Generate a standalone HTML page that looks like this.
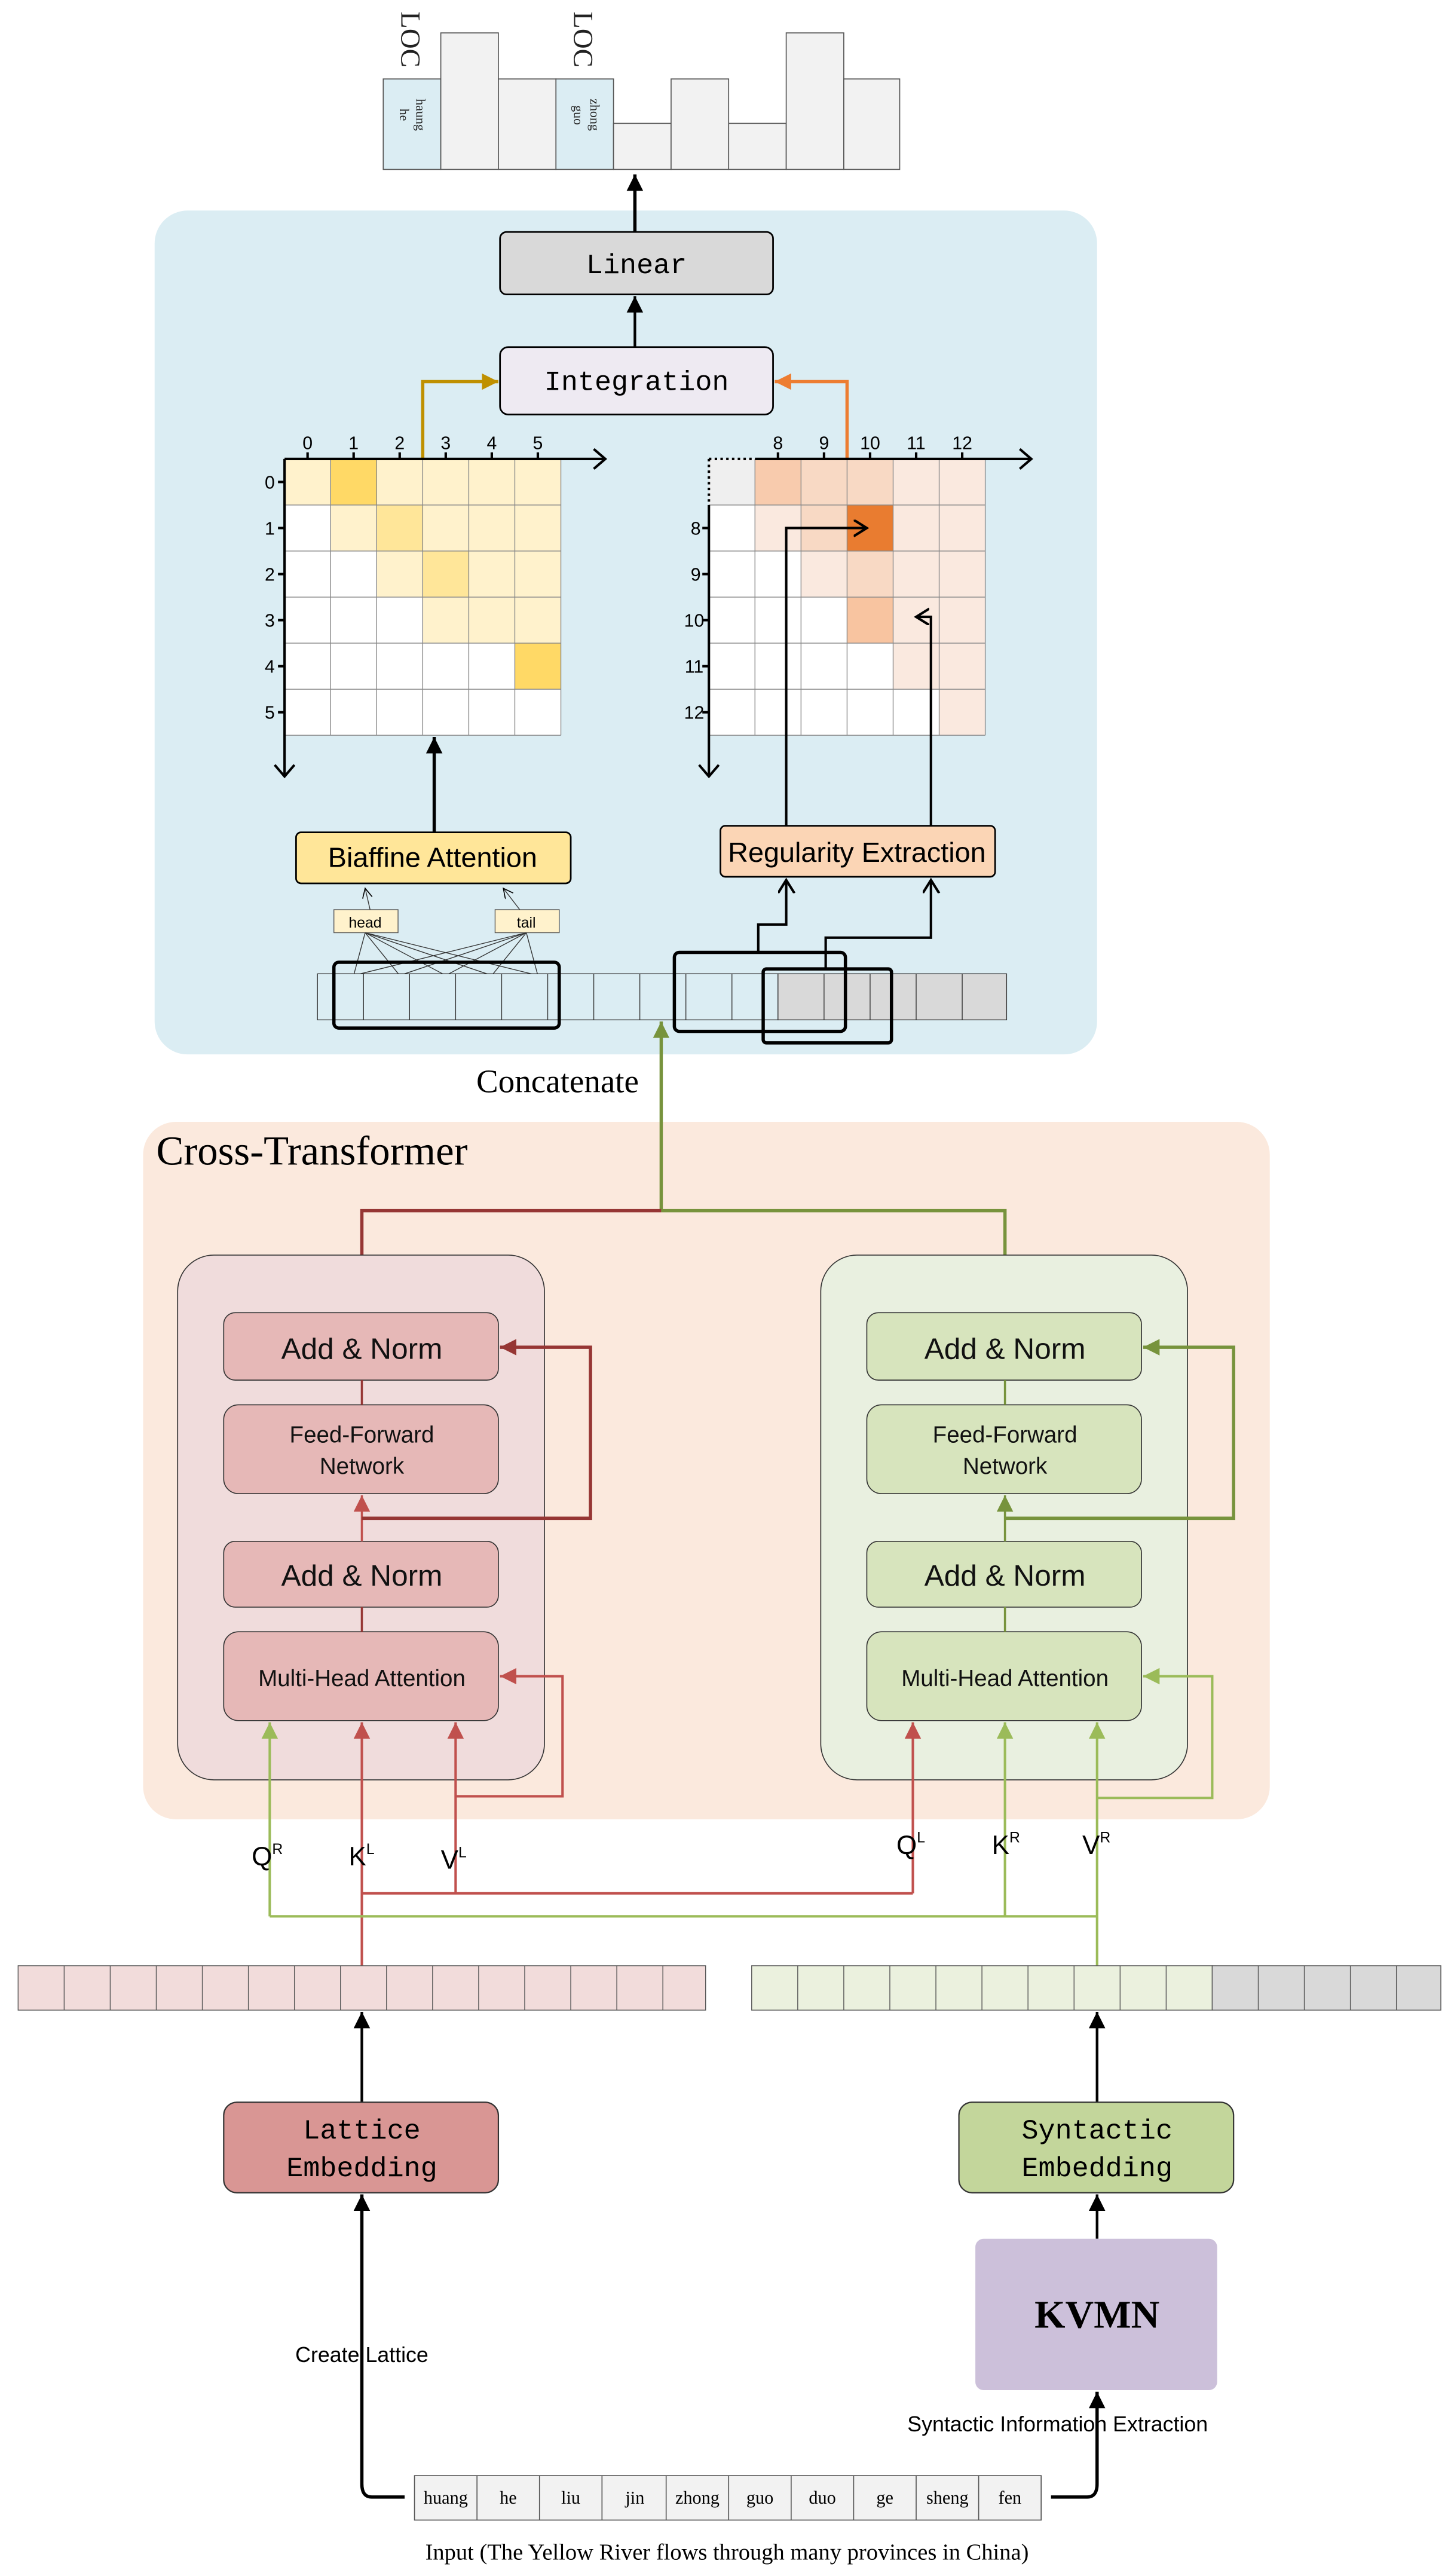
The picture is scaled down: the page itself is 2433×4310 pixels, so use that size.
<!DOCTYPE html>
<html><head><meta charset="utf-8"><style>html,body{margin:0;padding:0;background:#fff}svg{display:block}</style></head>
<body>
<svg xmlns="http://www.w3.org/2000/svg" width="2433" height="4310" viewBox="0 0 884 1566">
<defs>
<marker id="ak" markerUnits="userSpaceOnUse" markerWidth="12" markerHeight="12" refX="10" refY="5" orient="auto"><path d="M0,0L10,5L0,10z" fill="#000"/></marker>
<marker id="ar" markerUnits="userSpaceOnUse" markerWidth="12" markerHeight="12" refX="10" refY="5" orient="auto"><path d="M0,0L10,5L0,10z" fill="#c0504d"/></marker>
<marker id="adr" markerUnits="userSpaceOnUse" markerWidth="12" markerHeight="12" refX="10" refY="5" orient="auto"><path d="M0,0L10,5L0,10z" fill="#963634"/></marker>
<marker id="ag" markerUnits="userSpaceOnUse" markerWidth="12" markerHeight="12" refX="10" refY="5" orient="auto"><path d="M0,0L10,5L0,10z" fill="#9bbb59"/></marker>
<marker id="adg" markerUnits="userSpaceOnUse" markerWidth="12" markerHeight="12" refX="10" refY="5" orient="auto"><path d="M0,0L10,5L0,10z" fill="#77933c"/></marker>
<marker id="agold" markerUnits="userSpaceOnUse" markerWidth="12" markerHeight="12" refX="10" refY="5" orient="auto"><path d="M0,0L10,5L0,10z" fill="#bf9000"/></marker>
<marker id="aor" markerUnits="userSpaceOnUse" markerWidth="12" markerHeight="12" refX="10" refY="5" orient="auto"><path d="M0,0L10,5L0,10z" fill="#ed7d31"/></marker>
<marker id="aopen" markerUnits="userSpaceOnUse" markerWidth="12" markerHeight="12" refX="8" refY="5" orient="auto"><path d="M0,0L8,5L0,10" fill="none" stroke="#000" stroke-width="1.5"/></marker>
<marker id="athin" markerUnits="userSpaceOnUse" markerWidth="8" markerHeight="8" refX="6" refY="3" orient="auto"><path d="M0,0L6,3L0,6" fill="none" stroke="#000" stroke-width="0.6"/></marker>
</defs>

<!-- top bar chart -->
<g stroke="#555" stroke-width="0.6">
<rect x="233" y="48" width="35" height="55" fill="#dbedf3"/>
<rect x="268" y="20" width="35" height="83" fill="#f2f2f2"/>
<rect x="303" y="48" width="35" height="55" fill="#f2f2f2"/>
<rect x="338" y="48" width="35" height="55" fill="#dbedf3"/>
<rect x="373" y="75" width="35" height="28" fill="#f2f2f2"/>
<rect x="408" y="48" width="35" height="55" fill="#f2f2f2"/>
<rect x="443" y="75" width="35" height="28" fill="#f2f2f2"/>
<rect x="478" y="20" width="35" height="83" fill="#f2f2f2"/>
<rect x="513" y="48" width="34" height="55" fill="#f2f2f2"/>
</g>
<g font-family="Liberation Serif, serif" fill="#222">
<text transform="translate(244,7) rotate(90)" font-size="17">LOC</text>
<text transform="translate(349,7) rotate(90)" font-size="17">LOC</text>
<text transform="translate(253,60) rotate(90)" font-size="8">haung</text>
<text transform="translate(243,66) rotate(90)" font-size="8">he</text>
<text transform="translate(359,60) rotate(90)" font-size="8">zhong</text>
<text transform="translate(349,64) rotate(90)" font-size="8">guo</text>
</g>

<!-- blue panel -->
<rect x="94" y="128" width="573" height="513" rx="20" fill="#dbedf3"/>

<line x1="386" y1="141" x2="386" y2="106" stroke="#000" stroke-width="2" marker-end="url(#ak)"/>
<rect x="304" y="141" width="166" height="38" rx="4" fill="#d9d9d9" stroke="#000" stroke-width="1"/>
<text x="387" y="166" text-anchor="middle" font-family="Liberation Mono, monospace" font-size="17">Linear</text>
<line x1="386" y1="211" x2="386" y2="180" stroke="#000" stroke-width="1.6" marker-end="url(#ak)"/>
<rect x="304" y="211" width="166" height="41" rx="5" fill="#eeeaf2" stroke="#000" stroke-width="1"/>
<text x="387" y="237" text-anchor="middle" font-family="Liberation Mono, monospace" font-size="17">Integration</text>
<polyline points="257,280 257,232 303,232" fill="none" stroke="#bf9000" stroke-width="2" marker-end="url(#agold)"/>
<polyline points="515,280 515,232 471,232" fill="none" stroke="#ed7d31" stroke-width="2" marker-end="url(#aor)"/>

<!-- left matrix -->
<rect x="173" y="279" width="168" height="168" fill="#fff"/>
<rect x="173" y="279" width="168" height="28" fill="#fff2cc"/>
<rect x="201" y="279" width="28" height="28" fill="#ffd966"/>
<rect x="201" y="307" width="140" height="28" fill="#fff2cc"/>
<rect x="229" y="307" width="28" height="28" fill="#ffe699"/>
<rect x="229" y="335" width="112" height="28" fill="#fff2cc"/>
<rect x="257" y="335" width="28" height="28" fill="#ffe699"/>
<rect x="257" y="363" width="84" height="28" fill="#fff2cc"/>
<rect x="313" y="391" width="28" height="28" fill="#ffd966"/>
<g stroke="#888" stroke-width="0.5">
<line x1="201" y1="279" x2="201" y2="447"/><line x1="229" y1="279" x2="229" y2="447"/><line x1="257" y1="279" x2="257" y2="447"/><line x1="285" y1="279" x2="285" y2="447"/><line x1="313" y1="279" x2="313" y2="447"/><line x1="341" y1="279" x2="341" y2="447"/>
<line x1="173" y1="307" x2="341" y2="307"/><line x1="173" y1="335" x2="341" y2="335"/><line x1="173" y1="363" x2="341" y2="363"/><line x1="173" y1="391" x2="341" y2="391"/><line x1="173" y1="419" x2="341" y2="419"/><line x1="173" y1="447" x2="341" y2="447"/>
</g>
<g stroke="#000" stroke-width="1.5" fill="none">
<line x1="173" y1="279" x2="368" y2="279"/><polyline points="361,273 368,279 361,285"/>
<line x1="173" y1="279" x2="173" y2="472"/><polyline points="167,465 173,472 179,465"/>
<line x1="187" y1="275" x2="187" y2="279"/><line x1="215" y1="275" x2="215" y2="279"/><line x1="243" y1="275" x2="243" y2="279"/><line x1="271" y1="275" x2="271" y2="279"/><line x1="299" y1="275" x2="299" y2="279"/><line x1="327" y1="275" x2="327" y2="279"/>
<line x1="169" y1="293" x2="173" y2="293"/><line x1="169" y1="321" x2="173" y2="321"/><line x1="169" y1="349" x2="173" y2="349"/><line x1="169" y1="377" x2="173" y2="377"/><line x1="169" y1="405" x2="173" y2="405"/><line x1="169" y1="433" x2="173" y2="433"/>
</g>
<g font-family="Liberation Sans, sans-serif" font-size="11" text-anchor="middle">
<text x="187" y="273">0</text><text x="215" y="273">1</text><text x="243" y="273">2</text><text x="271" y="273">3</text><text x="299" y="273">4</text><text x="327" y="273">5</text>
<text x="164" y="297">0</text><text x="164" y="325">1</text><text x="164" y="353">2</text><text x="164" y="381">3</text><text x="164" y="409">4</text><text x="164" y="437">5</text>
</g>

<!-- right matrix -->
<rect x="431" y="279" width="168" height="168" fill="#fff"/>
<rect x="431" y="279" width="28" height="28" fill="#efefef"/>
<rect x="459" y="279" width="28" height="28" fill="#f8cbad"/>
<rect x="487" y="279" width="56" height="28" fill="#f8d9c4"/>
<rect x="543" y="279" width="56" height="140" fill="#fae9df"/>
<rect x="571" y="419" width="28" height="28" fill="#fae9df"/>
<rect x="459" y="307" width="28" height="28" fill="#fae9df"/>
<rect x="487" y="307" width="28" height="28" fill="#f8d9c4"/>
<rect x="515" y="307" width="28" height="28" fill="#e97c30"/>
<rect x="487" y="335" width="28" height="28" fill="#fae9df"/>
<rect x="515" y="335" width="28" height="28" fill="#f8d9c4"/>
<rect x="515" y="363" width="28" height="28" fill="#f8c4a0"/>
<g stroke="#888" stroke-width="0.5">
<line x1="459" y1="279" x2="459" y2="447"/><line x1="487" y1="279" x2="487" y2="447"/><line x1="515" y1="279" x2="515" y2="447"/><line x1="543" y1="279" x2="543" y2="447"/><line x1="571" y1="279" x2="571" y2="447"/><line x1="599" y1="279" x2="599" y2="447"/>
<line x1="431" y1="307" x2="599" y2="307"/><line x1="431" y1="335" x2="599" y2="335"/><line x1="431" y1="363" x2="599" y2="363"/><line x1="431" y1="391" x2="599" y2="391"/><line x1="431" y1="419" x2="599" y2="419"/><line x1="431" y1="447" x2="599" y2="447"/>
</g>
<g stroke="#000" stroke-width="1.5" fill="none">
<line x1="459" y1="279" x2="627" y2="279"/><polyline points="620,273 627,279 620,285"/>
<line x1="431" y1="279" x2="459" y2="279" stroke-dasharray="1.5,2"/>
<line x1="431" y1="279" x2="431" y2="307" stroke-dasharray="1.5,2"/>
<line x1="431" y1="307" x2="431" y2="472"/><polyline points="425,465 431,472 437,465"/>
<line x1="473" y1="275" x2="473" y2="279"/><line x1="501" y1="275" x2="501" y2="279"/><line x1="529" y1="275" x2="529" y2="279"/><line x1="557" y1="275" x2="557" y2="279"/><line x1="585" y1="275" x2="585" y2="279"/>
<line x1="427" y1="321" x2="431" y2="321"/><line x1="427" y1="349" x2="431" y2="349"/><line x1="427" y1="377" x2="431" y2="377"/><line x1="427" y1="405" x2="431" y2="405"/><line x1="427" y1="433" x2="431" y2="433"/>
</g>
<g font-family="Liberation Sans, sans-serif" font-size="11" text-anchor="middle">
<text x="473" y="273">8</text><text x="501" y="273">9</text><text x="529" y="273">10</text><text x="557" y="273">11</text><text x="585" y="273">12</text>
<text x="423" y="325">8</text><text x="423" y="353">9</text><text x="422" y="381">10</text><text x="422" y="409">11</text><text x="422" y="437">12</text>
</g>

<!-- biaffine -->
<line x1="264" y1="506" x2="264" y2="448" stroke="#000" stroke-width="2" marker-end="url(#ak)"/>
<rect x="180" y="506" width="167" height="31" rx="3" fill="#ffe699" stroke="#000" stroke-width="1"/>
<text x="263" y="527" text-anchor="middle" font-family="Liberation Sans Narrow, Liberation Sans, sans-serif" font-size="17">Biaffine Attention</text>
<rect x="203" y="553" width="39" height="14" fill="#fff2cc" stroke="#555" stroke-width="0.5"/>
<rect x="301" y="553" width="39" height="14" fill="#fff2cc" stroke="#555" stroke-width="0.5"/>
<text x="222" y="564" text-anchor="middle" font-family="Liberation Sans, sans-serif" font-size="9">head</text>
<text x="320" y="564" text-anchor="middle" font-family="Liberation Sans, sans-serif" font-size="9">tail</text>
<g stroke="#333" stroke-width="0.5" fill="none">
<line x1="225" y1="553" x2="222" y2="540" marker-end="url(#athin)"/>
<line x1="316" y1="553" x2="306" y2="540" marker-end="url(#athin)"/>
<line x1="222" y1="567" x2="215" y2="593"/><line x1="222" y1="567" x2="243" y2="593"/><line x1="222" y1="567" x2="271" y2="593"/><line x1="222" y1="567" x2="299" y2="593"/><line x1="222" y1="567" x2="327" y2="593"/>
<line x1="320" y1="567" x2="215" y2="593"/><line x1="320" y1="567" x2="243" y2="593"/><line x1="320" y1="567" x2="271" y2="593"/><line x1="320" y1="567" x2="299" y2="593"/><line x1="320" y1="567" x2="327" y2="593"/>
</g>

<!-- token row -->
<rect x="193" y="592" width="280" height="28" fill="#dbedf3" stroke="#333" stroke-width="0.5"/>
<rect x="473" y="592" width="139" height="28" fill="#d9d9d9" stroke="#333" stroke-width="0.5"/>
<g stroke="#333" stroke-width="0.5">
<line x1="221" y1="592" x2="221" y2="620"/><line x1="249" y1="592" x2="249" y2="620"/><line x1="277" y1="592" x2="277" y2="620"/><line x1="305" y1="592" x2="305" y2="620"/><line x1="333" y1="592" x2="333" y2="620"/><line x1="361" y1="592" x2="361" y2="620"/><line x1="389" y1="592" x2="389" y2="620"/><line x1="417" y1="592" x2="417" y2="620"/><line x1="445" y1="592" x2="445" y2="620"/><line x1="501" y1="592" x2="501" y2="620"/><line x1="529" y1="592" x2="529" y2="620"/><line x1="557" y1="592" x2="557" y2="620"/><line x1="585" y1="592" x2="585" y2="620"/>
</g>
<g fill="none" stroke="#000" stroke-width="2">
<rect x="203" y="585" width="137" height="40" rx="3"/>
<rect x="410" y="579" width="104" height="48" rx="3"/>
<rect x="464" y="589" width="78" height="45" rx="2"/>
</g>

<!-- regularity -->
<rect x="438" y="502" width="167" height="31" rx="3" fill="#fbd5b5" stroke="#000" stroke-width="1"/>
<text x="521" y="524" text-anchor="middle" font-family="Liberation Sans Narrow, Liberation Sans, sans-serif" font-size="17">Regularity Extraction</text>
<g fill="none" stroke="#000" stroke-width="1.5">
<polyline points="461,579 461,562 478,562 478,535" marker-end="url(#aopen)"/>
<polyline points="502,589 502,570 566,570 566,535" marker-end="url(#aopen)"/>
<polyline points="478,502 478,321 527,321" marker-end="url(#aopen)"/>
<polyline points="566,502 566,375 557,375" marker-end="url(#aopen)"/>
</g>

<text x="339" y="664" text-anchor="middle" font-family="Liberation Serif, serif" font-size="20">Concatenate</text>

<!-- cross transformer -->
<rect x="87" y="682" width="685" height="424" rx="20" fill="#fbe9dd"/>
<text x="95" y="708" font-family="Liberation Serif, serif" font-size="25">Cross-Transformer</text>
<line x1="402" y1="736" x2="402" y2="621" stroke="#77933c" stroke-width="2" marker-end="url(#adg)"/>
<polyline points="220,800 220,736 402,736" fill="none" stroke="#963634" stroke-width="2"/>
<polyline points="402,736 611,736 611,800" fill="none" stroke="#77933c" stroke-width="2"/>

<rect x="108" y="763" width="223" height="319" rx="22" fill="#f0dcdc" stroke="#333" stroke-width="0.6"/>
<rect x="499" y="763" width="223" height="319" rx="22" fill="#e9f0e0" stroke="#333" stroke-width="0.6"/>

<g stroke="#333" stroke-width="0.6">
<rect x="136" y="798" width="167" height="41" rx="7" fill="#e6b8b7"/>
<rect x="136" y="854" width="167" height="54" rx="9" fill="#e6b8b7"/>
<rect x="136" y="937" width="167" height="40" rx="7" fill="#e6b8b7"/>
<rect x="136" y="992" width="167" height="54" rx="9" fill="#e6b8b7"/>
<rect x="527" y="798" width="167" height="41" rx="7" fill="#d7e4bd"/>
<rect x="527" y="854" width="167" height="54" rx="9" fill="#d7e4bd"/>
<rect x="527" y="937" width="167" height="40" rx="7" fill="#d7e4bd"/>
<rect x="527" y="992" width="167" height="54" rx="9" fill="#d7e4bd"/>
</g>
<g font-family="Liberation Sans Narrow, Liberation Sans, sans-serif" text-anchor="middle" fill="#111">
<text x="220" y="826" font-size="18">Add &amp; Norm</text>
<text x="220" y="877" font-size="14">Feed-Forward</text><text x="220" y="896" font-size="14">Network</text>
<text x="220" y="964" font-size="18">Add &amp; Norm</text>
<text x="220" y="1025" font-size="14">Multi-Head Attention</text>
<text x="611" y="826" font-size="18">Add &amp; Norm</text>
<text x="611" y="877" font-size="14">Feed-Forward</text><text x="611" y="896" font-size="14">Network</text>
<text x="611" y="964" font-size="18">Add &amp; Norm</text>
<text x="611" y="1025" font-size="14">Multi-Head Attention</text>
</g>
<!-- left internal connectors -->
<g fill="none" stroke-width="1.3">
<line x1="220" y1="839" x2="220" y2="854" stroke="#963634"/>
<line x1="220" y1="937" x2="220" y2="909" stroke="#c0504d" marker-end="url(#ar)"/>
<line x1="220" y1="977" x2="220" y2="992" stroke="#963634"/>
<polyline points="220,923 359,923 359,819 304,819" stroke="#963634" stroke-width="2" marker-end="url(#adr)"/>
<line x1="611" y1="839" x2="611" y2="854" stroke="#77933c"/>
<line x1="611" y1="937" x2="611" y2="909" stroke="#77933c" marker-end="url(#adg)"/>
<line x1="611" y1="977" x2="611" y2="992" stroke="#77933c"/>
<polyline points="611,923 750,923 750,819 695,819" stroke="#77933c" stroke-width="2" marker-end="url(#adg)"/>
</g>
<!-- MHA inputs -->
<g fill="none" stroke-width="1.5">
<line x1="164" y1="1165" x2="164" y2="1047" stroke="#9bbb59" marker-end="url(#ag)"/>
<line x1="220" y1="1195" x2="220" y2="1047" stroke="#c0504d" marker-end="url(#ar)"/>
<line x1="277" y1="1151" x2="277" y2="1047" stroke="#c0504d" marker-end="url(#ar)"/>
<polyline points="277,1092 342,1092 342,1019 304,1019" stroke="#c0504d" marker-end="url(#ar)"/>
<line x1="555" y1="1151" x2="555" y2="1047" stroke="#c0504d" marker-end="url(#ar)"/>
<line x1="611" y1="1165" x2="611" y2="1047" stroke="#9bbb59" marker-end="url(#ag)"/>
<line x1="667" y1="1195" x2="667" y2="1047" stroke="#9bbb59" marker-end="url(#ag)"/>
<polyline points="667,1093 737,1093 737,1019 695,1019" stroke="#9bbb59" marker-end="url(#ag)"/>
<polyline points="164,1165 667,1165" stroke="#9bbb59"/>
<polyline points="220,1151 555,1151" stroke="#c0504d"/>
</g>
<g font-family="Liberation Sans Narrow, Liberation Sans, sans-serif" font-size="16" fill="#000">
<text x="153" y="1134">Q<tspan font-size="9" dy="-7">R</tspan></text>
<text x="212" y="1134">K<tspan font-size="9" dy="-7">L</tspan></text>
<text x="268" y="1136">V<tspan font-size="9" dy="-7">L</tspan></text>
<text x="545" y="1127">Q<tspan font-size="9" dy="-7">L</tspan></text>
<text x="603" y="1127">K<tspan font-size="9" dy="-7">R</tspan></text>
<text x="658" y="1127">V<tspan font-size="9" dy="-7">R</tspan></text>
</g>

<!-- embedding rows -->
<rect x="11" y="1195" width="418" height="27" fill="#f2dcdb" stroke="#555" stroke-width="0.5"/>
<g stroke="#555" stroke-width="0.5">
<line x1="39" y1="1195" x2="39" y2="1222"/><line x1="67" y1="1195" x2="67" y2="1222"/><line x1="95" y1="1195" x2="95" y2="1222"/><line x1="123" y1="1195" x2="123" y2="1222"/><line x1="151" y1="1195" x2="151" y2="1222"/><line x1="179" y1="1195" x2="179" y2="1222"/><line x1="207" y1="1195" x2="207" y2="1222"/><line x1="235" y1="1195" x2="235" y2="1222"/><line x1="263" y1="1195" x2="263" y2="1222"/><line x1="291" y1="1195" x2="291" y2="1222"/><line x1="319" y1="1195" x2="319" y2="1222"/><line x1="347" y1="1195" x2="347" y2="1222"/><line x1="375" y1="1195" x2="375" y2="1222"/><line x1="403" y1="1195" x2="403" y2="1222"/>
</g>
<rect x="457" y="1195" width="280" height="27" fill="#ebf1de" stroke="#555" stroke-width="0.5"/>
<rect x="737" y="1195" width="139" height="27" fill="#d9d9d9" stroke="#555" stroke-width="0.5"/>
<g stroke="#555" stroke-width="0.5">
<line x1="485" y1="1195" x2="485" y2="1222"/><line x1="513" y1="1195" x2="513" y2="1222"/><line x1="541" y1="1195" x2="541" y2="1222"/><line x1="569" y1="1195" x2="569" y2="1222"/><line x1="597" y1="1195" x2="597" y2="1222"/><line x1="625" y1="1195" x2="625" y2="1222"/><line x1="653" y1="1195" x2="653" y2="1222"/><line x1="681" y1="1195" x2="681" y2="1222"/><line x1="709" y1="1195" x2="709" y2="1222"/><line x1="765" y1="1195" x2="765" y2="1222"/><line x1="793" y1="1195" x2="793" y2="1222"/><line x1="821" y1="1195" x2="821" y2="1222"/><line x1="849" y1="1195" x2="849" y2="1222"/>
</g>

<line x1="220" y1="1278" x2="220" y2="1223" stroke="#000" stroke-width="1.6" marker-end="url(#ak)"/>
<line x1="667" y1="1278" x2="667" y2="1223" stroke="#000" stroke-width="1.6" marker-end="url(#ak)"/>
<rect x="136" y="1278" width="167" height="55" rx="8" fill="#d99694" stroke="#333" stroke-width="0.8"/>
<rect x="583" y="1278" width="167" height="55" rx="8" fill="#c3d69b" stroke="#333" stroke-width="0.8"/>
<g font-family="Liberation Mono, monospace" font-size="17" text-anchor="middle">
<text x="220" y="1300">Lattice</text><text x="220" y="1323">Embedding</text>
<text x="667" y="1300">Syntactic</text><text x="667" y="1323">Embedding</text>
</g>
<line x1="667" y1="1361" x2="667" y2="1334" stroke="#000" stroke-width="1.6" marker-end="url(#ak)"/>
<rect x="593" y="1361" width="147" height="92" rx="5" fill="#ccc0da"/>
<text x="667" y="1415" text-anchor="middle" font-family="Liberation Serif, serif" font-weight="bold" font-size="24">KVMN</text>

<g fill="none" stroke="#000" stroke-width="2">
<path d="M246,1518 L226,1518 Q220,1518 220,1510 L220,1334" marker-end="url(#ak)"/>
<path d="M639,1518 L661,1518 Q667,1518 667,1510 L667,1454" marker-end="url(#ak)"/>
</g>
<text x="220" y="1436" text-anchor="middle" font-family="Liberation Sans Narrow, Liberation Sans, sans-serif" font-size="13">Create Lattice</text>
<text x="643" y="1478" text-anchor="middle" font-family="Liberation Sans Narrow, Liberation Sans, sans-serif" font-size="13">Syntactic Information Extraction</text>

<rect x="252" y="1505" width="381" height="27" fill="#f2f2f2" stroke="#555" stroke-width="0.6"/>
<g stroke="#555" stroke-width="0.6">
<line x1="290" y1="1505" x2="290" y2="1532"/><line x1="328" y1="1505" x2="328" y2="1532"/><line x1="366" y1="1505" x2="366" y2="1532"/><line x1="405" y1="1505" x2="405" y2="1532"/><line x1="443" y1="1505" x2="443" y2="1532"/><line x1="481" y1="1505" x2="481" y2="1532"/><line x1="519" y1="1505" x2="519" y2="1532"/><line x1="557" y1="1505" x2="557" y2="1532"/><line x1="595" y1="1505" x2="595" y2="1532"/>
</g>
<g font-family="Liberation Serif, serif" font-size="11" text-anchor="middle">
<text x="271" y="1522">huang</text><text x="309" y="1522">he</text><text x="347" y="1522">liu</text><text x="386" y="1522">jin</text><text x="424" y="1522">zhong</text><text x="462" y="1522">guo</text><text x="500" y="1522">duo</text><text x="538" y="1522">ge</text><text x="576" y="1522">sheng</text><text x="614" y="1522">fen</text>
</g>
<text x="442" y="1556" text-anchor="middle" font-family="Liberation Serif, serif" font-size="14">Input (The Yellow River flows through many provinces in China)</text>
</svg>
</body></html>
